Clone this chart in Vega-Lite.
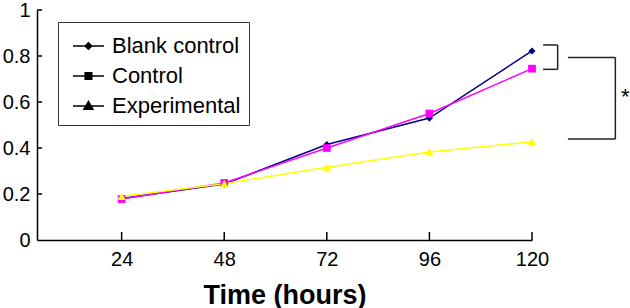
{
  "$schema": "https://vega.github.io/schema/vega-lite/v6.json",
  "width": 495,
  "height": 230,
  "autosize": {"type": "none"},
  "padding": {"left": 37, "top": 10, "right": 98, "bottom": 68},
  "background": "white",
  "config": {"view": {"stroke": null}, "font": "Liberation Sans"},
  "datasets": {
    "series": [
      {"series": "Blank control", "hours": 24, "value": 0.18},
      {"series": "Blank control", "hours": 48, "value": 0.243},
      {"series": "Blank control", "hours": 72, "value": 0.415},
      {"series": "Blank control", "hours": 96, "value": 0.53},
      {"series": "Blank control", "hours": 120, "value": 0.822},
      {"series": "Control", "hours": 24, "value": 0.178},
      {"series": "Control", "hours": 48, "value": 0.248},
      {"series": "Control", "hours": 72, "value": 0.4},
      {"series": "Control", "hours": 96, "value": 0.55},
      {"series": "Control", "hours": 120, "value": 0.745},
      {"series": "Experimental", "hours": 24, "value": 0.19},
      {"series": "Experimental", "hours": 48, "value": 0.245},
      {"series": "Experimental", "hours": 72, "value": 0.316},
      {"series": "Experimental", "hours": 96, "value": 0.383},
      {"series": "Experimental", "hours": 120, "value": 0.427}
    ],
    "brackets": [
      {"x1": 122.6, "x2": 126.0, "y1": 0.848, "y2": 0.848},
      {"x1": 122.6, "x2": 126.0, "y1": 0.742, "y2": 0.742},
      {"x1": 126.0, "x2": 126.0, "y1": 0.848, "y2": 0.742},
      {"x1": 128.4, "x2": 139.5, "y1": 0.794, "y2": 0.794},
      {"x1": 128.4, "x2": 139.5, "y1": 0.439, "y2": 0.439},
      {"x1": 139.5, "x2": 139.5, "y1": 0.794, "y2": 0.439}
    ],
    "xticks": [
      {"hours": 24, "y1": 0, "y2": 0.035},
      {"hours": 48, "y1": 0, "y2": 0.035},
      {"hours": 72, "y1": 0, "y2": 0.035},
      {"hours": 96, "y1": 0, "y2": 0.035},
      {"hours": 120, "y1": 0, "y2": 0.035}
    ],
    "yticks": [
      {"v": 0.2, "x1": 4.2, "x2": 5.4},
      {"v": 0.4, "x1": 4.2, "x2": 5.4},
      {"v": 0.6, "x1": 4.2, "x2": 5.4},
      {"v": 0.8, "x1": 4.2, "x2": 5.4},
      {"v": 1.0, "x1": 4.2, "x2": 5.4}
    ],
    "stars": [{"x": 141.8, "y": 0.62, "label": "*"}]
  },
  "layer": [
    {
      "data": {"name": "series"},
      "mark": {"type": "line", "strokeWidth": 1.5},
      "encoding": {
        "x": {"field": "hours", "type": "quantitative",
          "scale": {"domain": [4.2, 120], "nice": false, "zero": false},
          "axis": {"values": [24, 48, 72, 96, 120], "grid": false, "title": "Time (hours)",
            "labelFontSize": 20, "labelFont": "Liberation Sans", "labelColor": "black",
            "titleFontSize": 27, "titleFont": "Liberation Sans", "titleFontWeight": "bold", "titleColor": "black",
            "titlePadding": 13, "ticks": false, "tickSize": 0,
            "domainColor": "black", "domainWidth": 1.5, "labelPadding": 9, "labelFlush": false}},
        "y": {"field": "value", "type": "quantitative",
          "scale": {"domain": [0, 1], "nice": false},
          "axis": {"values": [0, 0.2, 0.4, 0.6, 0.8, 1], "format": "~g", "grid": false, "title": null,
            "labelFontSize": 20, "labelFont": "Liberation Sans", "labelColor": "black",
            "ticks": false, "tickSize": 0,
            "domainColor": "black", "domainWidth": 1.5, "labelPadding": 7}},
        "stroke": {"field": "series", "type": "nominal", "legend": null,
          "scale": {"domain": ["Blank control", "Control", "Experimental"], "range": ["#000080", "#ff00ff", "#ffff00"]}}
      }
    },
    {
      "data": {"name": "series"},
      "mark": {"type": "point", "filled": true, "opacity": 1, "strokeWidth": 0},
      "encoding": {
        "x": {"field": "hours", "type": "quantitative"},
        "y": {"field": "value", "type": "quantitative"},
        "fill": {"field": "series", "type": "nominal", "legend": null,
          "scale": {"domain": ["Blank control", "Control", "Experimental"], "range": ["#000080", "#ff00ff", "#ffff00"]}},
        "shape": {"field": "series", "type": "nominal", "legend": null,
          "scale": {"domain": ["Blank control", "Control", "Experimental"], "range": ["diamond", "square", "triangle-up"]}},
        "size": {"field": "series", "type": "nominal", "legend": null,
          "scale": {"domain": ["Blank control", "Control", "Experimental"], "range": [50, 70, 80]}}
      }
    },
    {
      "data": {"name": "series"},
      "transform": [{"filter": "datum.hours > 1000"}],
      "mark": {"type": "point", "filled": false},
      "encoding": {
        "x": {"field": "hours", "type": "quantitative"},
        "y": {"field": "value", "type": "quantitative"},
        "color": {"field": "series", "type": "nominal",
          "scale": {"domain": ["Blank control", "Control", "Experimental"], "range": ["#000080", "#ff00ff", "#ffff00"]},
          "legend": {"orient": "none", "legendX": 21, "legendY": 12, "title": null,
            "labelFontSize": 22, "labelFont": "Liberation Sans", "labelColor": "black",
            "symbolSize": 900, "symbolStrokeWidth": 1.5, "symbolOpacity": 1, "symbolStrokeColor": "black",
            "strokeColor": "#333333", "fillColor": "white",
            "padding": 8, "rowPadding": 3, "labelOffset": 14}},
        "shape": {"field": "series", "type": "nominal",
          "scale": {"domain": ["Blank control", "Control", "Experimental"],
            "range": [
              "M-0.6,0L1.47,0M0.21,0L0.43,-0.22L0.65,0L0.43,0.22ZM0.31,0L0.43,-0.12L0.55,0L0.43,0.12ZM0.4,0L0.43,-0.03L0.46,0L0.43,0.03Z",
              "M-0.6,0L1.47,0M0.21,-0.22L0.65,-0.22L0.65,0.22L0.21,0.22ZM0.31,-0.12L0.55,-0.12L0.55,0.12L0.31,0.12ZM0.4,-0.03L0.46,-0.03L0.46,0.03L0.4,0.03Z",
              "M-0.6,0L1.47,0M0.13,0.22L0.73,0.22L0.43,-0.3ZM0.25,0.15L0.61,0.15L0.43,-0.16ZM0.355,0.09L0.505,0.09L0.43,-0.04Z"
            ]},
          "legend": {"orient": "none", "legendX": 21, "legendY": 12, "title": null,
            "labelFontSize": 22, "labelFont": "Liberation Sans", "labelColor": "black",
            "symbolSize": 900, "symbolStrokeWidth": 1.5, "symbolOpacity": 1, "symbolStrokeColor": "black",
            "strokeColor": "#333333", "fillColor": "white",
            "padding": 8, "rowPadding": 3, "labelOffset": 14}}
      }
    },
    {
      "data": {"name": "xticks"},
      "mark": {"type": "rule", "color": "black", "strokeWidth": 1.5},
      "encoding": {
        "x": {"field": "hours", "type": "quantitative"},
        "y": {"field": "y1", "type": "quantitative"},
        "y2": {"field": "y2"}
      }
    },
    {
      "data": {"name": "yticks"},
      "mark": {"type": "rule", "color": "black", "strokeWidth": 1.5},
      "encoding": {
        "x": {"field": "x1", "type": "quantitative"},
        "x2": {"field": "x2"},
        "y": {"field": "v", "type": "quantitative"}
      }
    },
    {
      "data": {"name": "brackets"},
      "mark": {"type": "rule", "color": "#222222", "strokeWidth": 1.5},
      "encoding": {
        "x": {"field": "x1", "type": "quantitative"},
        "x2": {"field": "x2"},
        "y": {"field": "y1", "type": "quantitative"},
        "y2": {"field": "y2"}
      }
    },
    {
      "data": {"name": "stars"},
      "mark": {"type": "text", "fontSize": 22, "font": "Liberation Sans", "color": "black"},
      "encoding": {
        "x": {"field": "x", "type": "quantitative"},
        "y": {"field": "y", "type": "quantitative"},
        "text": {"field": "label"}
      }
    }
  ],
  "resolve": {"scale": {"shape": "independent", "size": "independent"}}
}
